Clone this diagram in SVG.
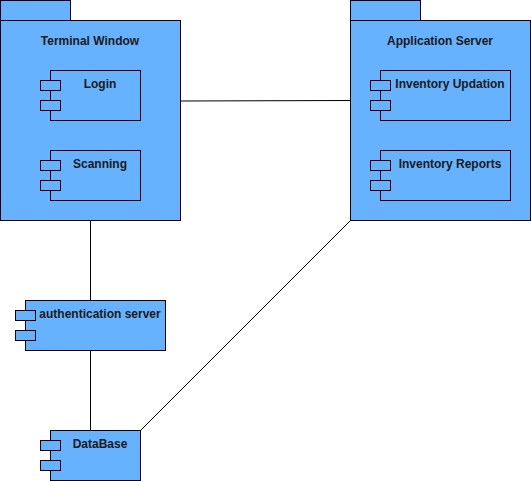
<svg xmlns="http://www.w3.org/2000/svg" width="531" height="481" viewBox="0 0 531 481">
<style>
.b{fill:#66B2FF;stroke:#000;stroke-width:1}
.t{font-family:"Liberation Sans",Arial,sans-serif;font-size:12px;font-weight:bold;fill:#1a1a1a;text-anchor:middle}
.c{stroke:#000;stroke-width:1;fill:none}
</style>
<rect width="531" height="481" fill="#fff"/>
<g id="connectors">
<path class="c" d="M180.5,101 L350.5,100.5"/>
<path class="c" d="M90.5,220.5 L90.5,300.5"/>
<path class="c" d="M90.5,350.5 L90.5,430.5"/>
<path class="c" d="M350.5,220.5 L140.5,430.5"/>
</g>
<g id="terminal-window">
<rect class="b" x="0.5" y="0.5" width="70" height="20"/>
<rect class="b" x="0.5" y="20.5" width="180" height="200"/>
<text class="t" x="90" y="45">Terminal Window</text>
</g>
<g id="login">
<rect class="b" x="50.5" y="70.5" width="90" height="50"/>
<rect class="b" x="40.5" y="80.5" width="20" height="10"/>
<rect class="b" x="40.5" y="100.5" width="20" height="10"/>
<text class="t" x="100" y="88">Login</text>
</g>
<g id="scanning">
<rect class="b" x="50.5" y="150.5" width="90" height="50"/>
<rect class="b" x="40.5" y="160.5" width="20" height="10"/>
<rect class="b" x="40.5" y="180.5" width="20" height="10"/>
<text class="t" x="100" y="168">Scanning</text>
</g>
<g id="application-server">
<rect class="b" x="350.5" y="0.5" width="70" height="20"/>
<rect class="b" x="350.5" y="20.5" width="180" height="200"/>
<text class="t" x="440" y="45">Application Server</text>
</g>
<g id="inventory-updation">
<rect class="b" x="380.5" y="70.5" width="130" height="50"/>
<rect class="b" x="370.5" y="80.5" width="20" height="10"/>
<rect class="b" x="370.5" y="100.5" width="20" height="10"/>
<text class="t" x="450" y="88">Inventory Updation</text>
</g>
<g id="inventory-reports">
<rect class="b" x="380.5" y="150.5" width="130" height="50"/>
<rect class="b" x="370.5" y="160.5" width="20" height="10"/>
<rect class="b" x="370.5" y="180.5" width="20" height="10"/>
<text class="t" x="450" y="168">Inventory Reports</text>
</g>
<g id="authentication-server">
<rect class="b" x="25.5" y="300.5" width="140" height="50"/>
<rect class="b" x="15.5" y="310.5" width="20" height="10"/>
<rect class="b" x="15.5" y="330.5" width="20" height="10"/>
<text class="t" x="100" y="318">authentication server</text>
</g>
<g id="database">
<rect class="b" x="50.5" y="430.5" width="90" height="50"/>
<rect class="b" x="40.5" y="440.5" width="20" height="10"/>
<rect class="b" x="40.5" y="460.5" width="20" height="10"/>
<text class="t" x="100" y="448">DataBase</text>
</g>
</svg>
